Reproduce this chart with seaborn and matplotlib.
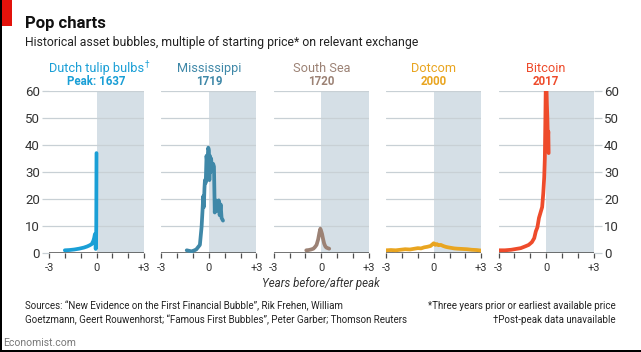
import numpy as np
import pandas as pd
import matplotlib.pyplot as plt
import seaborn as sns
from matplotlib.patches import Rectangle

# Bubble data: years from peak vs multiple of starting price
tulip_x = [-2.0, -1.7, -1.4, -1.1, -0.8, -0.6, -0.45, -0.3, -0.2, -0.15, -0.1, -0.07, -0.05, -0.03, -0.015, 0.0]
tulip_y = [1.0, 1.1, 1.3, 1.6, 2.0, 2.4, 2.8, 3.3, 4.5, 5.5, 7.0, 4.0, 1.5, 3.0, 10.0, 37.0]

miss_x = [-1.4, -1.25, -1.1, -0.95, -0.8, -0.57, -0.46, -0.4, -0.36, -0.32, -0.28, -0.25, -0.2, -0.15, -0.1, -0.04,
          0.0, 0.03, 0.06, 0.1, 0.14, 0.18, 0.22, 0.27, 0.32, 0.37, 0.42, 0.47, 0.52, 0.57, 0.62, 0.68, 0.74, 0.8, 0.89]
miss_y = [1.0, 0.8, 0.6, 0.9, 1.3, 3.0, 9.8, 16.0, 21.0, 17.0, 24.0, 27.0, 26.0, 36.0, 33.0, 39.0,
          38.0, 27.0, 36.0, 30.0, 35.0, 32.0, 33.0, 33.0, 32.0, 15.0, 19.5, 15.5, 19.0, 17.0, 19.5, 14.0, 18.0, 13.0, 12.0]

ssea_x = [-0.95, -0.8, -0.65, -0.5, -0.4, -0.3, -0.2, -0.12, -0.06, 0.0, 0.05, 0.1, 0.18, 0.25, 0.32, 0.4, 0.5]
ssea_y = [1.0, 1.1, 1.3, 1.6, 2.2, 3.0, 5.0, 7.5, 9.0, 8.0, 7.0, 5.5, 3.5, 2.5, 2.0, 1.8, 1.6]

dot_x = [-3.0, -2.7, -2.4, -2.1, -1.8, -1.5, -1.2, -1.0, -0.8, -0.6, -0.4, -0.2, -0.1, 0.0, 0.1, 0.2, 0.3,
         0.45, 0.6, 0.75, 0.9, 1.1, 1.3, 1.5, 1.8, 2.1, 2.4, 2.7, 3.0]
dot_y = [1.0, 1.1, 1.0, 1.2, 1.4, 1.3, 1.6, 1.8, 1.7, 2.1, 2.3, 2.6, 3.1, 3.6, 3.0, 3.3, 2.9,
         3.0, 2.6, 2.3, 2.1, 1.9, 1.7, 1.6, 1.5, 1.4, 1.2, 1.1, 0.9]

btc_x = [-3.0, -2.6, -2.2, -1.9, -1.6, -1.3, -1.1, -0.9, -0.75, -0.65, -0.55, -0.45, -0.35, -0.25, -0.18,
         -0.12, -0.08, -0.05, -0.03, -0.01, 0.02, 0.05, 0.08, 0.11, 0.14, 0.16]
btc_y = [1.0, 1.0, 1.2, 1.5, 1.8, 2.5, 3.0, 4.0, 5.5, 8.0, 9.5, 13.0, 15.0, 17.0, 22.0,
         28.0, 35.0, 48.0, 58.0, 65.0, 62.0, 55.0, 50.0, 42.0, 45.0, 37.0]

names = ["Dutch tulip bulbs", "Mississippi", "South Sea", "Dotcom", "Bitcoin"]
peaks = ["Peak: 1637", "1719", "1720", "2000", "2017"]
colors = ["#1a9fd6", "#3f88a8", "#9c8275", "#e9a520", "#ee4b2b"]
series = [(tulip_x, tulip_y), (miss_x, miss_y), (ssea_x, ssea_y), (dot_x, dot_y), (btc_x, btc_y)]

sns.set_theme(style="white")
plt.rcParams['font.family'] = ['Roboto', 'DejaVu Sans']

W, H = 641, 352
fig = plt.figure(figsize=(W / 100, H / 100), dpi=100)
fig.patch.set_facecolor("white")

grid_c = "#c8d0d5"
dark = "#4d4d4d"

for i, ((xs, ys), name, peak, c) in enumerate(zip(series, names, peaks, colors)):
    left = 49 + 112.4 * i
    ax = fig.add_axes([left / W, (H - 253) / H, 95 / W, 162 / H])
    ax.set_xlim(-3, 3)
    ax.set_ylim(0, 60)
    ax.axvspan(0, 3, color="#d5dfe6", zorder=0, lw=0)
    for v in range(10, 61, 10):
        ax.axhline(v, color=grid_c, lw=0.9, zorder=1)
    ax.axhline(0, color=dark, lw=1.1, zorder=4)

    df = pd.DataFrame({"years": xs, "multiple": ys})
    sns.lineplot(data=df, x="years", y="multiple", ax=ax, color=c, linewidth=2.7,
                 estimator=None, sort=False, zorder=5)

    for s in ax.spines.values():
        s.set_visible(False)
    ax.set_xlabel("")
    ax.set_ylabel("")
    ax.set_xticks([-3, -2, -1, 0, 1, 2, 3])
    ax.set_xticklabels(["-3", "", "", "0", "", "", "+3"])
    ax.tick_params(axis="x", bottom=True, length=3.5, width=0.9, color=dark,
                   labelsize=8, labelcolor="#333333", pad=4)
    ax.set_yticks(range(0, 61, 10))
    if i == 0:
        ax.tick_params(axis="y", left=True, right=False, length=5, width=0.9, color=grid_c,
                       labelsize=9.5, labelcolor="#333333", pad=1.5)
        ax.yaxis.get_major_ticks()[0].tick1line.set_color(dark)
    elif i == 4:
        ax.yaxis.tick_right()
        ax.tick_params(axis="y", left=False, right=True, length=6, width=0.9, color=grid_c,
                       labelsize=9.5, labelcolor="#333333", pad=1.5)
        ax.yaxis.get_major_ticks()[0].tick2line.set_color(dark)
    else:
        ax.tick_params(axis="y", left=False, right=False, labelleft=False, labelright=False)
    ax.set_facecolor("none")

    cx = (left + 47.5) / W
    t = fig.text(cx, 1 - 72 / H, name, ha="center", va="baseline", color=c, fontsize=9.2)
    if i == 0:
        # superscript dagger after the tulip title
        fig.canvas.draw()
        bb = t.get_window_extent()
        fig.text((bb.x1 + 0.5) / W, 1 - 66 / H, "\u2020", ha="left", va="baseline",
                 color=c, fontsize=6.5, family="DejaVu Sans")
    fig.text(cx, 1 - 85 / H, peak, ha="center", va="baseline", color=c, fontsize=8.3, fontweight="bold")

# header
fig.patches.append(Rectangle((2 / W, 1 - 26 / H), 10 / W, 26 / H, transform=fig.transFigure,
                             color="#e3120b", lw=0))
fig.patches.append(Rectangle((0, 0), 2 / W, 1, transform=fig.transFigure, color="black", lw=0))
fig.patches.append(Rectangle((0, 0), 1, 2 / H, transform=fig.transFigure, color="black", lw=0))
fig.text(25 / W, 1 - 28 / H, "Pop charts", fontsize=12, fontweight="bold", color="#111111", va="baseline")
fig.text(25 / W, 1 - 46 / H, "Historical asset bubbles, multiple of starting price* on relevant exchange",
         fontsize=8.8, color="#222222", va="baseline")

# footer
fig.text(321 / W, 1 - 284 / H, "Years before/after peak", ha="center", va="center",
         fontsize=8.3, style="italic", color="#333333")
fs = 7.0
fig.text(25 / W, 1 - 306 / H, "Sources: \u201cNew Evidence on the First Financial Bubble\u201d, Rik Frehen, William",
         fontsize=fs, va="center", color="#222222")
fig.text(25 / W, 1 - 320 / H, "Goetzmann, Geert Rouwenhorst; \u201cFamous First Bubbles\u201d, Peter Garber; Thomson Reuters",
         fontsize=fs, va="center", color="#222222")
fig.text(616 / W, 1 - 306 / H, "*Three years prior or earliest available price",
         fontsize=fs, va="center", ha="right", color="#222222")
fig.text(616 / W, 1 - 320 / H, "\u2020Post-peak data unavailable",
         fontsize=fs, va="center", ha="right", color="#222222")
fig.text(3 / W, 1 - 343 / H, "Economist.com", fontsize=7.5, va="center", color="#777777")

fig.savefig("out.png", dpi=100)
